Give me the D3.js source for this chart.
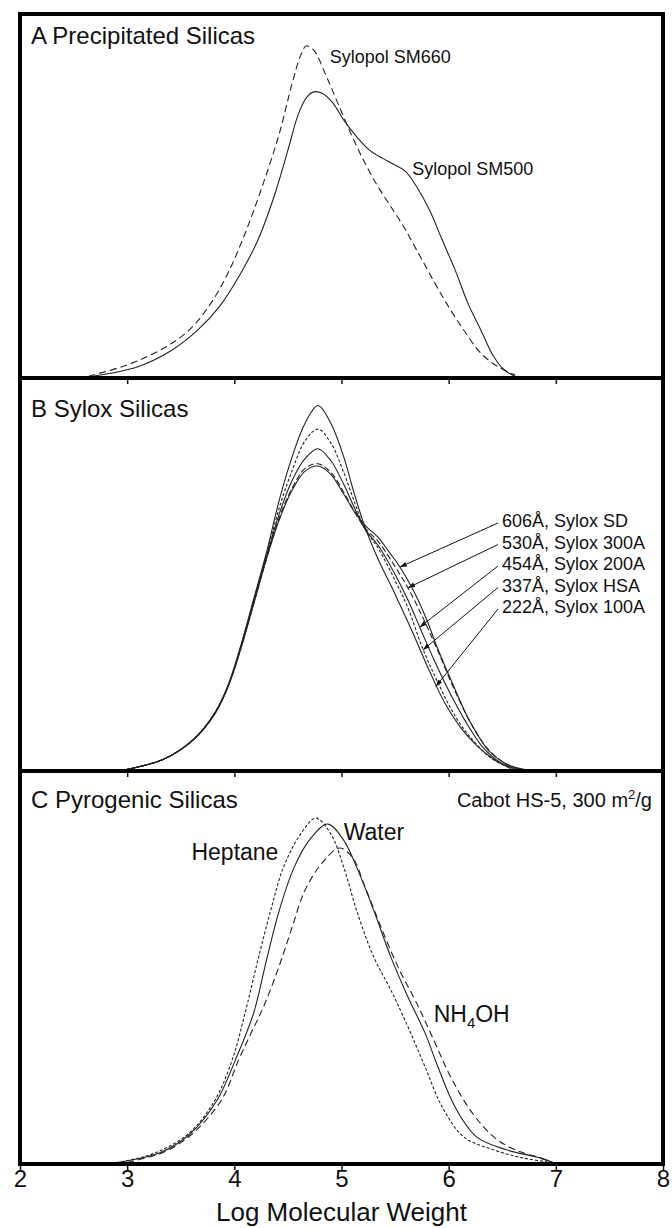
<!DOCTYPE html>
<html>
<head>
<meta charset="utf-8">
<script src="https://cdn.jsdelivr.net/npm/d3@7"></script>
<style>
  body { margin: 0; background: #fff; }
  text { font-family: "Liberation Sans", Arial, sans-serif; fill: #111; }
</style>
</head>
<body>
<div id="chart"></div>
<script>
// x ticks (log MW)
var xTicks = [2, 3, 4, 5, 6, 7, 8];

// Panel A - precipitated silicas  [logMW, relative height]
var sm660 = [[2.64,0.5],[3.02,3.8],[3.34,8.2],[3.58,13.2],[3.78,20.5],[3.94,28.8],[4.1,39.7],[4.26,52.6],[4.42,67.2],[4.54,81],[4.62,88.7],[4.67,91.2],[4.74,90.1],[4.86,82.8],[4.98,74.5],[5.1,66.3],[5.22,59],[5.34,52.6],[5.46,47.1],[5.58,41.6],[5.7,35.2],[5.82,28.8],[5.98,20.5],[6.14,13.2],[6.3,6.8],[6.46,3.1],[6.62,0.8]];
var sm500 = [[2.68,0.5],[3.1,3.1],[3.42,7.7],[3.66,13.2],[3.86,19.6],[4.06,28.8],[4.22,37.9],[4.38,50.7],[4.5,62.6],[4.6,72.7],[4.68,77.3],[4.74,78.6],[4.82,78.2],[4.92,75.5],[5.02,70.9],[5.14,66.3],[5.26,62.6],[5.38,60.4],[5.5,58.5],[5.6,56.7],[5.7,52.6],[5.82,46.2],[5.94,37.9],[6.06,29.7],[6.18,20.5],[6.3,13.2],[6.42,5.9],[6.52,2.2],[6.62,0.5]];

// Panel B - Sylox silicas
var sylox100A = [[2.96,0.2],[3.34,3],[3.62,8.1],[3.82,14.9],[3.94,21.7],[4.06,31.9],[4.18,43.7],[4.3,55.6],[4.42,69],[4.54,80],[4.66,88.5],[4.78,93],[4.9,88.5],[5.02,80],[5.12,70.5],[5.22,62],[5.34,54],[5.5,45],[5.66,35.5],[5.82,25.5],[5.96,17.5],[6.1,11.5],[6.26,6.5],[6.42,3],[6.58,0.6]];
var syloxHSA = [[2.96,0.2],[3.34,3],[3.62,8.1],[3.82,14.9],[3.94,21.6],[4.06,31.6],[4.18,43.2],[4.3,55],[4.42,67],[4.54,76.5],[4.66,84],[4.78,87],[4.9,83.5],[5.02,76],[5.12,68.5],[5.22,61.5],[5.34,56.8],[5.5,48.5],[5.62,41.5],[5.76,31],[5.9,22.5],[6.06,14],[6.22,8],[6.4,3.2],[6.56,1],[6.68,0.3]];
var sylox200A = [[2.96,0.2],[3.34,3],[3.62,8],[3.82,14.8],[3.94,21.5],[4.06,31.4],[4.18,42.9],[4.3,54.5],[4.42,65.5],[4.54,74],[4.66,79.5],[4.78,82],[4.9,79],[5.02,73],[5.12,67],[5.22,61.5],[5.34,57.5],[5.5,50],[5.62,43.5],[5.73,36.6],[5.86,28.5],[6.0,20.5],[6.16,12.5],[6.32,6],[6.48,2.2],[6.62,0.6]];
var sylox300A = [[2.96,0.2],[3.34,3],[3.62,8],[3.82,14.7],[3.94,21.4],[4.06,31.2],[4.18,42.6],[4.3,54],[4.42,64.5],[4.54,72],[4.66,77],[4.78,78.2],[4.9,76],[5.02,71],[5.12,66],[5.22,61.8],[5.34,58.5],[5.5,52],[5.62,46.6],[5.76,39],[5.9,30.5],[6.04,21.5],[6.2,12.5],[6.36,5.8],[6.52,2],[6.66,0.5]];
var syloxSD = [[2.96,0.2],[3.34,3],[3.62,8],[3.82,14.6],[3.94,21.3],[4.06,31],[4.18,42.4],[4.3,54],[4.42,64],[4.54,71.5],[4.66,76.3],[4.78,77.6],[4.9,75.5],[5.02,70.5],[5.12,66],[5.22,62.5],[5.34,59.5],[5.45,55.5],[5.545,51.9],[5.66,46.5],[5.78,39.5],[5.9,31],[6.04,22],[6.2,12.5],[6.38,5],[6.56,1.5],[6.72,0.3]];

// Panel C - pyrogenic silicas
var heptane = [[2.9,0.3],[3.26,2.8],[3.58,7.9],[3.82,16.3],[3.98,26.5],[4.1,38.4],[4.22,51.9],[4.34,64.6],[4.46,75.6],[4.62,84],[4.76,88],[4.9,84],[5.02,75.6],[5.14,64.6],[5.3,52.7],[5.46,44.3],[5.62,34.9],[5.78,24.7],[5.94,14.5],[6.14,6.9],[6.42,3.6],[6.7,1.5],[6.98,0.3]];
var water = [[2.88,0.3],[3.3,2.8],[3.58,7.5],[3.84,16.3],[4.01,26.5],[4.18,38.4],[4.3,51.9],[4.42,64.6],[4.56,75.6],[4.7,82.4],[4.87,86.5],[5.02,82.4],[5.14,75.6],[5.3,64.6],[5.46,52.7],[5.62,42.5],[5.78,33.3],[5.9,24.7],[6.06,14.5],[6.26,6.9],[6.54,3.6],[6.86,1.5],[6.98,0.3]];
var nh4oh = [[3.0,0.4],[3.34,3],[3.6,7.5],[3.88,16.3],[4.04,26.5],[4.16,33.5],[4.28,40.5],[4.42,50.5],[4.54,60.3],[4.66,69.7],[4.82,76.6],[4.98,80.4],[5.1,78.1],[5.22,70.5],[5.38,59.5],[5.54,49.4],[5.7,41],[5.86,31.6],[6.02,22.1],[6.22,13],[6.42,6.9],[6.62,3.6],[6.86,1.5],[6.98,0.3]];

// Panel B arrow labels and the curve point each arrow hits
var syloxLabels = ["606Å, Sylox SD", "530Å, Sylox 300A", "454Å, Sylox 200A", "337Å, Sylox HSA", "222Å, Sylox 100A"];
var syloxTips = [[5.545,51.9],[5.62,46.6],[5.73,36.6],[5.76,30.8],[5.88,21.5]];

var width = 672, height = 1228;
var frameL = 20, frameR = 663;

var svg = d3.select("#chart").append("svg")
  .attr("width", width)
  .attr("height", height);

var x = d3.scaleLinear().domain([2, 8]).range([frameL, frameR]);

// panel bounds (top, bottom)
var panels = [
  {top: 14, bottom: 378},
  {top: 378, bottom: 771},
  {top: 771, bottom: 1164}
];
panels.forEach(function(p) {
  p.y = d3.scaleLinear().domain([0, 100]).range([p.bottom, p.top]);
});

function line(yScale) {
  return d3.line()
    .x(function(d) { return x(d[0]); })
    .y(function(d) { return yScale(d[1]); })
    .curve(d3.curveCatmullRom.alpha(0.5));
}

function drawCurve(p, data, dash) {
  svg.append("path")
    .datum(data)
    .attr("d", line(p.y))
    .attr("fill", "none")
    .attr("stroke", "#222")
    .attr("stroke-width", 1.1)
    .attr("stroke-dasharray", dash || null);
}

// Curves
var pA = panels[0], pB = panels[1], pC = panels[2];
drawCurve(pA, sm660, "7,4");
drawCurve(pA, sm500);

drawCurve(pB, sylox100A);
drawCurve(pB, syloxHSA, "3,2");
drawCurve(pB, sylox200A);
drawCurve(pB, sylox300A, "6,3");
drawCurve(pB, syloxSD);

drawCurve(pC, heptane, "3,2");
drawCurve(pC, water);
drawCurve(pC, nh4oh, "7,4");

// Axes with ticks under each panel
panels.forEach(function(p, i) {
  var last = i == panels.length - 1;
  var ax = svg.append("g")
    .attr("transform", "translate(0," + p.bottom + ")")
    .call(d3.axisBottom(x)
      .tickValues(last ? xTicks : xTicks.slice(1, -1))
      .tickSize(6)
      .tickPadding(0)
      .tickFormat(last ? d3.format("d") : ""));
  ax.select(".domain").remove();
  ax.selectAll("line").attr("stroke", "#111").attr("stroke-width", 1.5);
  ax.selectAll("text")
    .style("font-family", "'Liberation Sans', Arial, sans-serif")
    .style("font-size", "24px")
    .attr("fill", "#111");
});

// Frame
svg.append("rect")
  .attr("x", frameL).attr("y", pA.top)
  .attr("width", frameR - frameL).attr("height", pC.bottom - pA.top)
  .attr("fill", "none").attr("stroke", "#000").attr("stroke-width", 4);
[pA.bottom, pB.bottom].forEach(function(yy) {
  svg.append("line")
    .attr("x1", frameL).attr("x2", frameR)
    .attr("y1", yy).attr("y2", yy)
    .attr("stroke", "#000").attr("stroke-width", 4);
});

// Panel titles
svg.append("text").attr("x", 31).attr("y", 44).style("font-size", "24px").text("A Precipitated Silicas");
svg.append("text").attr("x", 31).attr("y", 417).style("font-size", "24px").text("B Sylox Silicas");
svg.append("text").attr("x", 31).attr("y", 808).style("font-size", "24px").text("C Pyrogenic Silicas");

// Panel A labels
svg.append("text").attr("x", x(4.89)).attr("y", pA.y(86.5)).style("font-size", "18px").text("Sylopol SM660");
svg.append("text").attr("x", x(5.66)).attr("y", pA.y(55.8)).style("font-size", "18px").text("Sylopol SM500");

// Panel B labels + arrows
svg.append("defs").append("marker")
  .attr("id", "arrow")
  .attr("viewBox", "0 0 10 10")
  .attr("refX", 10).attr("refY", 5)
  .attr("markerWidth", 7).attr("markerHeight", 7)
  .attr("orient", "auto")
  .append("path").attr("d", "M0,1.5L10,5L0,8.5z").attr("fill", "#111");

syloxLabels.forEach(function(lbl, i) {
  var ty = 527 + i * 21.5;
  svg.append("text")
    .attr("x", 502).attr("y", ty)
    .style("font-size", "18px")
    .text(lbl);
  svg.append("line")
    .attr("x1", 498).attr("y1", ty - 4)
    .attr("x2", x(syloxTips[i][0])).attr("y2", pB.y(syloxTips[i][1]))
    .attr("stroke", "#111").attr("stroke-width", 1)
    .attr("marker-end", "url(#arrow)");
});

// Panel C labels
var cab = svg.append("text").attr("x", 652).attr("y", 807).attr("text-anchor", "end").style("font-size", "20px");
cab.append("tspan").text("Cabot HS-5, 300 m");
cab.append("tspan").attr("dy", -8).style("font-size", "13px").text("2");
cab.append("tspan").attr("dy", 8).text("/g");

svg.append("text").attr("x", x(3.6)).attr("y", 860).style("font-size", "23px").text("Heptane");
svg.append("text").attr("x", x(5.02)).attr("y", 840).style("font-size", "23px").text("Water");
var nh = svg.append("text").attr("x", x(5.86)).attr("y", 1022).style("font-size", "23px");
nh.append("tspan").text("NH");
nh.append("tspan").attr("dy", 6).style("font-size", "15px").text("4");
nh.append("tspan").attr("dy", -6).text("OH");

// X axis title
svg.append("text")
  .attr("x", (frameL + frameR) / 2)
  .attr("y", 1221)
  .attr("text-anchor", "middle")
  .style("font-size", "26px")
  .text("Log Molecular Weight");
</script>
</body>
</html>
